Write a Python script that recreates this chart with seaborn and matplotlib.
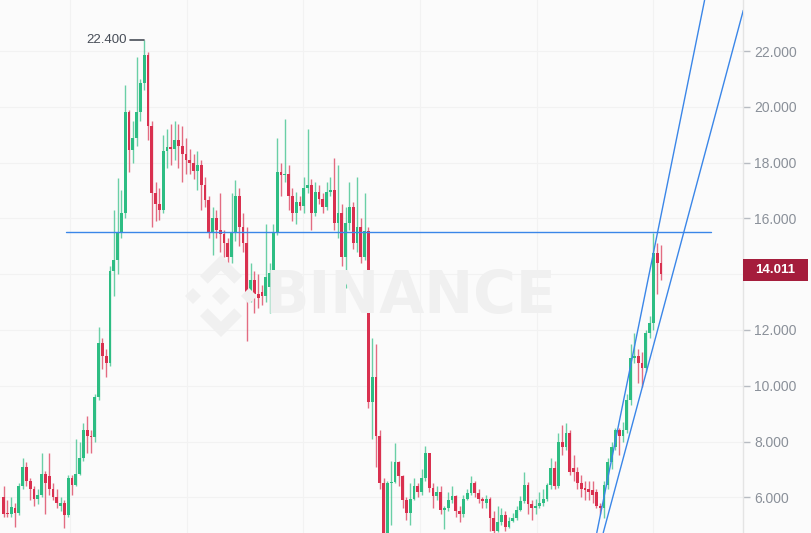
import numpy as np
import pandas as pd
import matplotlib
matplotlib.use("Agg")
import matplotlib.pyplot as plt
import seaborn as sns
from matplotlib.patches import Polygon, Rectangle
from matplotlib.transforms import IdentityTransform, blended_transform_factory

# ---------------- data ----------------
opens = [6.0, 5.45, 5.4, 5.6, 5.45, 6.4, 7.1, 6.6, 6.3, 5.95, 6.1, 6.85, 6.75, 6.3, 6.0, 5.7, 5.8, 5.35, 6.7, 6.45,
         6.85, 7.4, 8.4, 8.2, 8.15, 9.6, 11.55, 11.05, 10.8, 14.1, 14.5, 15.5, 16.2, 19.8, 18.45, 18.9, 19.8, 20.85, 21.85, 19.3,
         16.9, 16.5, 16.3, 18.4, 18.55, 18.5, 18.8, 18.6, 18.3, 18.1, 17.98, 17.7, 17.9, 17.2, 16.65, 15.5, 16.0, 15.6, 15.45, 15.1,
         14.6, 15.5, 16.8, 15.7, 15.1, 13.3, 13.8, 13.3, 13.35, 13.2, 13.55, 14.05, 15.5, 17.65, 17.55, 17.6, 16.8, 16.2, 16.6, 16.45,
         17.1, 17.2, 16.2, 16.95, 16.7, 16.4, 16.95, 17.0, 15.85, 16.2, 14.6, 15.85, 16.4, 15.1, 15.7, 14.6, 15.55, 9.42, 10.3, 8.2,
         6.5, 4.7, 6.5, 6.55, 7.27, 6.75, 5.9, 5.45, 5.95, 6.4, 6.2, 6.7, 7.6, 6.35, 6.05, 6.2, 5.55, 5.6, 5.9, 6.05,
         5.5, 5.4, 5.95, 6.15, 6.5, 6.15, 5.95, 5.8, 5.95, 5.25, 4.78, 5.1, 5.35, 4.95, 5.15, 5.25, 5.55, 5.85, 6.45, 5.75,
         5.6, 5.7, 5.8, 5.95, 6.45, 7.05, 6.4, 8.0, 7.8, 8.3, 7.05, 6.9, 6.5, 6.35, 6.3, 6.25, 6.2, 5.7, 5.6, 6.45,
         7.25, 7.8, 8.4, 8.2, 8.4, 9.5, 11.0, 11.05, 10.8, 10.65, 11.9, 12.25, 14.75, 14.4]
highs = [6.4, 5.9, 6.0, 5.8, 6.5, 7.4, 7.25, 6.7, 6.4, 6.3, 7.6, 6.95, 7.6, 6.5, 6.3, 6.0, 5.9, 6.8, 6.8, 8.1,
         8.0, 8.65, 8.9, 8.4, 9.7, 12.1, 11.7, 11.3, 14.3, 16.3, 17.45, 17.0, 20.8, 19.9, 19.5, 21.8, 21.0, 22.4, 21.95, 19.5,
         17.3, 17.1, 19.0, 19.2, 19.4, 19.5, 19.4, 19.3, 18.9, 18.5, 18.3, 18.4, 18.1, 17.5, 16.8, 16.4, 16.3, 16.9, 15.6, 15.3,
         16.9, 17.38, 17.1, 16.2, 15.7, 14.4, 14.1, 14.0, 13.6, 15.8, 14.4, 15.8, 18.9, 18.0, 19.55, 17.9, 17.1, 16.95, 16.8, 17.5,
         19.2, 17.4, 17.3, 17.2, 16.9, 17.3, 17.5, 18.16, 17.9, 16.5, 16.4, 17.3, 16.6, 17.5, 16.0, 16.9, 15.7, 11.7, 11.5, 8.4,
         6.7, 6.6, 7.3, 7.95, 7.3, 6.8, 6.0, 6.5, 6.7, 6.5, 7.0, 7.85, 7.6, 6.5, 6.4, 6.4, 5.7, 6.2, 6.4, 6.1,
         5.7, 6.1, 6.3, 6.75, 6.6, 6.3, 6.0, 6.1, 6.0, 5.5, 5.7, 5.6, 5.5, 5.3, 5.45, 5.7, 6.05, 6.9, 6.55, 5.9,
         5.95, 6.2, 6.3, 6.5, 7.4, 7.3, 8.3, 8.6, 8.65, 8.4, 7.5, 7.1, 6.8, 6.6, 6.6, 6.6, 6.3, 5.8, 6.6, 7.4,
         8.0, 8.5, 8.5, 8.7, 9.7, 11.5, 11.9, 11.3, 11.2, 12.0, 12.5, 15.48, 15.1, 15.05]
lows = [5.3, 5.3, 5.3, 4.95, 5.35, 6.3, 6.4, 5.9, 5.7, 5.75, 6.0, 5.4, 6.1, 5.9, 5.6, 5.5, 4.9, 5.3, 6.1, 6.4,
        6.8, 7.3, 7.6, 7.6, 8.0, 9.5, 10.6, 10.3, 10.7, 13.2, 14.0, 15.3, 16.0, 17.66, 18.0, 18.6, 19.5, 20.6, 18.8, 15.7,
        15.9, 15.95, 16.2, 17.8, 17.9, 18.1, 17.8, 17.3, 17.6, 17.6, 17.4, 17.0, 16.3, 16.4, 15.3, 14.7, 15.3, 14.8, 14.6, 14.4,
        14.4, 15.2, 15.0, 14.8, 11.6, 13.0, 12.6, 12.8, 12.9, 13.0, 12.6, 13.8, 15.4, 16.8, 17.3, 16.3, 15.9, 15.8, 16.3, 16.2,
        16.9, 15.6, 16.1, 16.5, 16.2, 16.3, 16.8, 15.6, 15.3, 14.3, 13.5, 15.6, 14.9, 14.8, 14.4, 14.5, 9.2, 8.1, 7.1, 6.3,
        4.5, 4.5, 5.0, 6.5, 6.4, 5.6, 5.2, 5.0, 5.9, 6.0, 6.1, 6.6, 6.2, 5.6, 5.9, 5.4, 4.85, 5.5, 5.8, 5.3,
        5.1, 5.3, 5.9, 6.1, 6.0, 5.8, 5.6, 5.6, 4.8, 4.7, 4.75, 5.0, 4.8, 4.9, 5.1, 5.2, 5.5, 5.8, 5.4, 5.2,
        5.4, 5.6, 5.7, 5.85, 6.3, 6.3, 6.35, 7.5, 7.7, 6.8, 6.6, 6.3, 6.0, 5.9, 5.9, 5.8, 5.6, 5.4, 5.25, 6.3,
        7.0, 7.7, 7.5, 8.0, 8.3, 9.3, 10.8, 10.1, 9.96, 10.5, 11.7, 12.0, 13.3, 13.8]
closes = [5.4, 5.4, 5.65, 5.45, 6.4, 7.1, 6.6, 6.3, 5.95, 6.1, 6.85, 6.5, 6.3, 6.0, 5.8, 5.8, 5.35, 6.7, 6.45, 6.85,
          7.4, 8.4, 8.2, 8.15, 9.6, 11.55, 11.05, 10.8, 14.1, 14.5, 15.5, 16.2, 19.8, 18.45, 18.9, 19.8, 20.85, 21.85, 19.3, 16.9,
          16.5, 16.3, 18.4, 18.55, 18.5, 18.8, 18.6, 18.3, 18.1, 17.98, 17.7, 17.9, 17.2, 16.65, 15.5, 16.0, 15.6, 15.45, 15.1, 14.6,
          15.5, 16.8, 15.7, 15.1, 13.3, 13.8, 13.3, 13.15, 13.2, 13.9, 14.05, 15.5, 17.65, 17.55, 17.6, 16.8, 16.2, 16.6, 16.45, 17.1,
          17.2, 16.2, 16.95, 16.7, 16.4, 16.95, 17.0, 15.85, 16.2, 14.6, 15.85, 16.4, 15.1, 15.7, 14.6, 15.55, 9.42, 10.3, 8.2, 6.5,
          4.7, 6.5, 6.55, 7.27, 6.75, 5.9, 5.45, 5.95, 6.4, 6.2, 6.7, 7.6, 6.35, 6.05, 6.2, 5.55, 5.6, 5.9, 6.05, 5.5,
          5.4, 5.95, 6.15, 6.5, 6.15, 5.95, 5.85, 5.95, 5.25, 4.78, 5.1, 5.35, 4.95, 5.15, 5.25, 5.55, 5.85, 6.45, 5.75, 5.6,
          5.7, 5.8, 5.95, 6.45, 7.05, 6.4, 8.0, 7.8, 8.3, 6.9, 6.9, 6.5, 6.3, 6.25, 6.2, 6.1, 5.7, 5.6, 6.45, 7.25,
          7.8, 8.4, 8.2, 8.4, 9.5, 11.0, 11.05, 10.8, 10.65, 11.9, 12.25, 14.75, 14.4, 14.011]

# user-drawn lines (candle-index, price)
hline_price = 15.51
hline_span = [16.4, 186.1]
trend1 = [(156.1, 4.72), (184.5, 23.83)]
trend2 = [(157.8, 4.72), (194.7, 23.47)]

ytick_vals = [6, 8, 10, 12, 14, 16, 18, 20, 22]
ytick_show = [6, 8, 10, 12, 16, 18, 20, 22]

# ---------------- style ----------------
W, H, DPI = 811, 533, 100
sns.set_theme(style="white")
plt.rcParams["font.family"] = ["Liberation Sans", "DejaVu Sans"]

GREEN = "#2DBD83"
RED = "#D9304F"
BG = "#FBFBFB"
BLUE = "#3A86E8"
GRID = "#F2F2F2"
TXT = "#8A9099"
WM = "#F0F0F0"

df = pd.DataFrame({"open": opens, "high": highs, "low": lows, "close": closes})
df["idx"] = np.arange(len(df))
df["up"] = df["close"] >= df["open"]

fig = plt.figure(figsize=(W / DPI, H / DPI), dpi=DPI, facecolor=BG)
axw = 743 / W
ax = fig.add_axes([0, 0, axw, 1])
ax.set_facecolor(BG)

ymin, ymax = 4.72, 23.83
xmin, xmax = -0.95, 194.6
ax.set_ylim(ymin, ymax)
ax.set_xlim(xmin, xmax)

# grid
for v in ytick_vals:
    ax.axhline(v, color=GRID, lw=0.8, zorder=0)
for gx in [17.5, 48.3, 78.8, 109.6, 140.3, 171.0]:
    ax.axvline(gx, color=GRID, lw=0.8, zorder=0)

# watermark
idt = IdentityTransform()
fig.text(410 / W, 1 - 296 / H, "BINANCE", fontsize=42, fontweight="bold",
         family="DejaVu Sans", color=WM, ha="center", va="center", zorder=0.5)
cx, cy = 221, H - 296
def diamond(x, y, r):
    return [(x, y + r), (x + r, y), (x, y - r), (x - r, y)]
for (dx, dy, r) in [(0, 0, 9), (-28, 0, 8), (28, 0, 8)]:
    fig.add_artist(Polygon(diamond(cx + dx, cy + dy, r), closed=True, transform=idt,
                           facecolor=WM, edgecolor="none", zorder=0.5))
for s in (1, -1):
    outer = 41
    th = 11
    pts = [(cx - 21, cy + s * 20), (cx, cy + s * outer), (cx + 21, cy + s * 20),
           (cx + 21 - th * 0.7, cy + s * (20 - th * 0.7)), (cx, cy + s * (outer - th * 1.4)),
           (cx - 21 + th * 0.7, cy + s * (20 - th * 0.7))]
    fig.add_artist(Polygon(pts, closed=True, transform=idt, facecolor=WM,
                           edgecolor="none", zorder=0.5))

# wicks and bodies
for up, col in [(True, GREEN), (False, RED)]:
    sub = df[df["up"] == up]
    ax.vlines(sub["idx"], sub["low"], sub["high"], color=col, lw=1.0, alpha=0.7, zorder=2)
    body_lo = np.minimum(sub["open"], sub["close"])
    body_h = np.maximum(np.abs(sub["close"] - sub["open"]), 0.05)
    ax.bar(sub["idx"], body_h, bottom=body_lo, width=0.74, color=col, linewidth=0, zorder=3)

# user lines
ax.plot(hline_span, [hline_price, hline_price], color=BLUE, lw=1.0, zorder=4)
for tl in (trend1, trend2):
    xs, ys = zip(*tl)
    ax.plot(xs, ys, color=BLUE, lw=1.0, zorder=4, solid_capstyle="butt")

# highest-high annotation
imax = int(np.argmax(highs))
hmax = highs[imax]
ax.plot([imax - 3.7, imax], [hmax, hmax], color="#474D57", lw=1.2, zorder=5)
ax.text(imax - 4.7, hmax, f"{hmax:.3f}", color="#474D57", fontsize=9.5,
        ha="right", va="center", zorder=5)

# right price axis
for sp in ["top", "left", "bottom"]:
    ax.spines[sp].set_visible(False)
ax.spines["right"].set_color("#E4E4E4")
ax.spines["right"].set_linewidth(1.0)
ax.set_xticks([])
ax.yaxis.tick_right()
ax.set_yticks(ytick_show)
ax.set_yticklabels([f"{v:.3f}" for v in ytick_show])
ax.tick_params(axis="y", direction="out", length=5, width=1, color="#B8BCC2",
               labelcolor=TXT, labelsize=10, pad=3, right=True)

# last price label
last = closes[-1]
tr = blended_transform_factory(ax.transAxes, ax.transData)
box_w = 65 / 743
box_h = 22 / 27.9
ax.add_patch(Rectangle((1.0, last - box_h / 2 + 0.14), box_w, box_h, transform=tr,
                       facecolor="#A51D3C", edgecolor="none", clip_on=False, zorder=6))
ax.text(1.0 + box_w / 2, last + 0.14, f"{last:.3f}", transform=tr, color="white",
        fontsize=9.5, fontweight="bold", ha="center", va="center", zorder=7, clip_on=False)

fig.savefig("out.png", dpi=DPI, facecolor=BG)
